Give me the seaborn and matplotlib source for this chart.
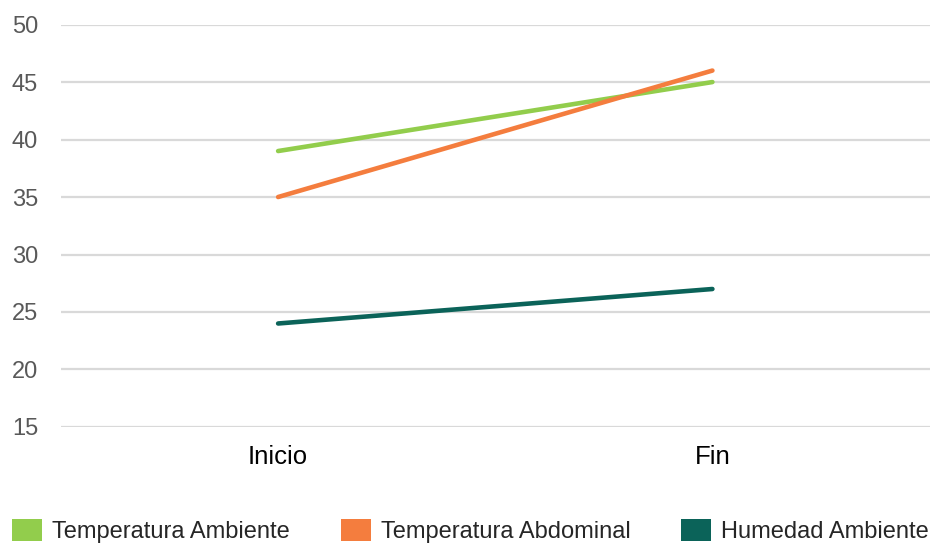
import matplotlib
matplotlib.use("Agg")
import matplotlib.pyplot as plt
from matplotlib.patches import Patch
import seaborn as sns
import pandas as pd

# Measurement moments and recorded values
momentos = ["Inicio", "Fin"]
temp_ambiente = [39, 45]
temp_abdominal = [35, 46]
humedad_ambiente = [24, 27]
series = ["Temperatura Ambiente", "Temperatura Abdominal", "Humedad Ambiente"]
y_ticks = [15, 20, 25, 30, 35, 40, 45, 50]

colores = ["#92CD4C", "#F47D3E", "#0B6359"]

df = pd.DataFrame({
    "momento": momentos * 3,
    "valor": temp_ambiente + temp_abdominal + humedad_ambiente,
    "serie": [s for s in series for _ in momentos],
})

sns.set_theme(style="white")
plt.rcParams["font.family"] = ["Liberation Sans", "DejaVu Sans"]

fig = plt.figure(figsize=(9.38, 5.46), dpi=100)
ax = fig.add_axes([0.065, 0.218, 0.926, 0.737])

sns.lineplot(data=df, x="momento", y="valor", hue="serie", hue_order=series,
             palette=colores, linewidth=3.3, sort=False, legend=False, ax=ax,
             solid_capstyle="round")

ax.set_xlim(-0.5, 1.5)
ax.set_ylim(15, 50)
ax.set_yticks(y_ticks)
ax.yaxis.grid(True, color="#D9D9D9", linewidth=1.6)
ax.set_axisbelow(True)
for s in ax.spines.values():
    s.set_visible(False)
ax.set_xlabel("")
ax.set_ylabel("")
ax.tick_params(axis="y", labelsize=17, labelcolor="#595959", length=0, pad=16.5)
ax.tick_params(axis="x", labelsize=18.5, labelcolor="#000000", length=0, pad=13)

handles = [Patch(facecolor=c, edgecolor="none") for c in colores]
fig.legend(handles, series, loc="lower left", bbox_to_anchor=(-0.0045, -0.025),
           ncol=3, frameon=False, fontsize=17, handlelength=1.27, handleheight=1.06,
           handletextpad=0.42, columnspacing=2.15, borderaxespad=0.3)

fig.savefig("out.png", dpi=100)
